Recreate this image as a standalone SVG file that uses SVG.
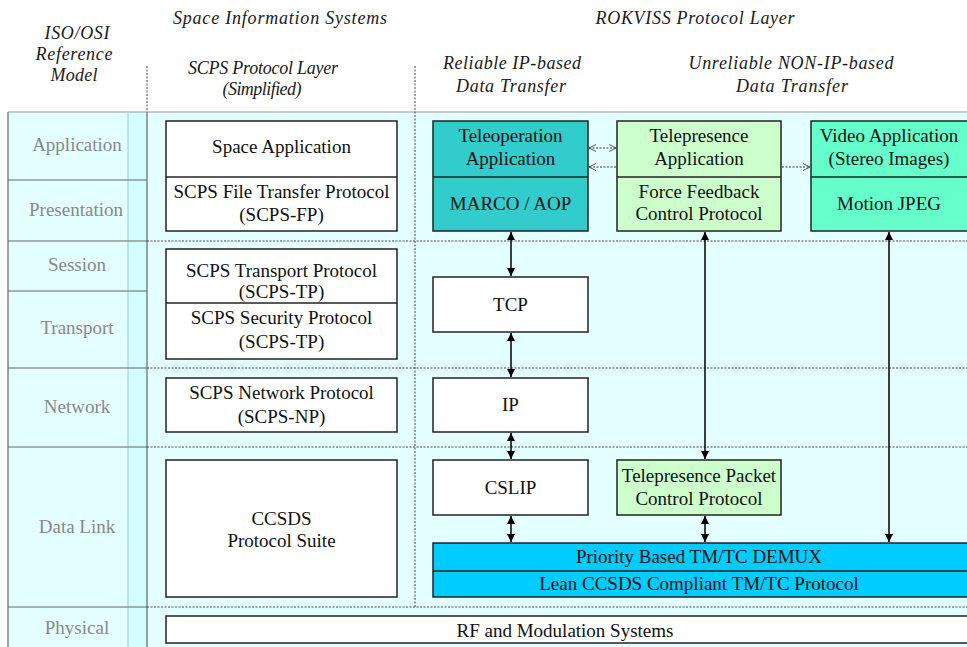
<svg xmlns="http://www.w3.org/2000/svg" width="967" height="647" viewBox="0 0 967 647">
<defs>
<marker id="ah" viewBox="0 0 10 10" refX="10" refY="5" markerWidth="9" markerHeight="8" markerUnits="userSpaceOnUse" orient="auto-start-reverse"><path d="M0,0 L10,5 L0,10 z" fill="#000"/></marker>
<marker id="oh" viewBox="0 0 10 10" refX="10" refY="5" markerWidth="7" markerHeight="9" markerUnits="userSpaceOnUse" orient="auto-start-reverse"><path d="M0,0 L10,5 L0,10" fill="none" stroke="#333" stroke-width="1.2"/></marker>
</defs>
<style>
text{font-family:'Liberation Serif','Times New Roman',serif}
.hdr{font-style:italic;font-size:18px;fill:#1a1a1a;text-anchor:middle}
.lay{font-size:19px;fill:#888;text-anchor:middle}
.bt{font-size:19px;fill:#111;text-anchor:middle}
.box{stroke:#222;stroke-width:1.5}
.dot{stroke:#444;stroke-width:1;stroke-dasharray:2,1.5;fill:none}
.tl{stroke:#666;stroke-width:1.2}
.arr{stroke:#000;stroke-width:1.5;fill:none;marker-start:url(#ah);marker-end:url(#ah)}
.darr{stroke:#333;stroke-width:1.2;stroke-dasharray:2,1.5;fill:none}
</style>
<rect width="967" height="647" fill="#fff"/>
<g id="background">
<rect x="8" y="112" width="959" height="535" fill="#e4ffff"/>
<rect x="128" y="112" width="19" height="535" fill="#d4fdfd"/>
<line x1="8" y1="112" x2="967" y2="112" stroke="#999" stroke-width="1.2"/>
<line x1="8" y1="112" x2="8" y2="647" class="tl"/>
<line x1="128" y1="112" x2="128" y2="647" stroke="#9cc" stroke-width="1"/>
<line x1="147" y1="112" x2="147" y2="647" class="tl"/>
<line x1="8" y1="180" x2="147" y2="180" class="tl"/>
<line x1="8" y1="241" x2="147" y2="241" class="tl"/>
<line x1="8" y1="291" x2="147" y2="291" class="tl"/>
<line x1="8" y1="368" x2="147" y2="368" class="tl"/>
<line x1="8" y1="447" x2="147" y2="447" class="tl"/>
<line x1="8" y1="607" x2="147" y2="607" class="tl"/>
<line x1="147" y1="66" x2="147" y2="112" class="dot"/>
<line x1="415" y1="66" x2="415" y2="607" class="dot"/>
<line x1="147" y1="241" x2="967" y2="241" class="dot"/>
<line x1="147" y1="368" x2="967" y2="368" class="dot"/>
<line x1="147" y1="447" x2="967" y2="447" class="dot"/>
<line x1="147" y1="607" x2="967" y2="607" class="dot"/>
</g>
<g id="headers">
<text class="hdr" x="77" y="39" textLength="65">ISO/OSI</text>
<text class="hdr" x="74" y="60" textLength="77">Reference</text>
<text class="hdr" x="74" y="81" textLength="47">Model</text>
<text class="hdr" x="280" y="24" textLength="214">Space Information Systems</text>
<text class="hdr" x="263" y="74" textLength="150">SCPS Protocol Layer</text>
<text class="hdr" x="262" y="95" textLength="79">(Simplified)</text>
<text class="hdr" x="695" y="24" textLength="199">ROKVISS Protocol Layer</text>
<text class="hdr" x="512" y="69" textLength="138">Reliable IP-based</text>
<text class="hdr" x="511" y="92" textLength="110">Data Transfer</text>
<text class="hdr" x="791" y="69" textLength="205">Unreliable NON-IP-based</text>
<text class="hdr" x="792" y="92" textLength="112">Data Transfer</text>
</g>
<g id="layers">
<text class="lay" x="77" y="151">Application</text>
<text class="lay" x="76" y="216">Presentation</text>
<text class="lay" x="77" y="271">Session</text>
<text class="lay" x="77" y="334">Transport</text>
<text class="lay" x="77" y="413">Network</text>
<text class="lay" x="77" y="533">Data Link</text>
<text class="lay" x="77" y="634">Physical</text>
</g>
<g id="scps-app">
<rect class="box" x="166" y="121" width="231" height="110" fill="#fff"/>
<line class="box" x1="166" y1="177" x2="397" y2="177"/>
<text class="bt" x="281.5" y="153">Space Application</text>
<text class="bt" x="281.5" y="198">SCPS File Transfer Protocol</text>
<text class="bt" x="281.5" y="221">(SCPS-FP)</text>
</g>
<g id="scps-tp">
<rect class="box" x="166" y="249" width="231" height="110" fill="#fff"/>
<line class="box" x1="166" y1="303" x2="397" y2="303"/>
<text class="bt" x="281.5" y="277">SCPS Transport Protocol</text>
<text class="bt" x="281.5" y="298">(SCPS-TP)</text>
<text class="bt" x="281.5" y="324">SCPS Security Protocol</text>
<text class="bt" x="281.5" y="348">(SCPS-TP)</text>
</g>
<g id="scps-np">
<rect class="box" x="166" y="378" width="231" height="54" fill="#fff"/>
<text class="bt" x="281.5" y="399">SCPS Network Protocol</text>
<text class="bt" x="281.5" y="423">(SCPS-NP)</text>
</g>
<g id="ccsds">
<rect class="box" x="166" y="460" width="231" height="137" fill="#fff"/>
<text class="bt" x="281.5" y="525">CCSDS</text>
<text class="bt" x="281.5" y="547">Protocol Suite</text>
</g>
<g id="rf">
<rect class="box" x="166" y="616" width="810" height="27" fill="#fff"/>
<text class="bt" x="565" y="637">RF and Modulation Systems</text>
</g>
<g id="teleop">
<rect class="box" x="433" y="121" width="155" height="110" fill="#33cccc"/>
<line class="box" x1="433" y1="177" x2="588" y2="177"/>
<text class="bt" x="510.5" y="142">Teleoperation</text>
<text class="bt" x="510.5" y="165">Application</text>
<text class="bt" x="510.5" y="210">MARCO / AOP</text>
</g>
<g id="telepresence">
<rect class="box" x="617" y="121" width="164" height="110" fill="#ccffcc"/>
<line class="box" x1="617" y1="177" x2="781" y2="177"/>
<text class="bt" x="699" y="142">Telepresence</text>
<text class="bt" x="699" y="165">Application</text>
<text class="bt" x="699" y="198">Force Feedback</text>
<text class="bt" x="699" y="220">Control Protocol</text>
</g>
<g id="video">
<rect class="box" x="811" y="121" width="165" height="110" fill="#66ffcc"/>
<line class="box" x1="811" y1="177" x2="976" y2="177"/>
<text class="bt" x="889" y="142">Video Application</text>
<text class="bt" x="889" y="165">(Stereo Images)</text>
<text class="bt" x="889" y="210">Motion JPEG</text>
</g>
<g id="tcp">
<rect class="box" x="433" y="277" width="155" height="55" fill="#fff"/>
<text class="bt" x="510.5" y="311">TCP</text>
</g>
<g id="ip">
<rect class="box" x="433" y="378" width="155" height="54" fill="#fff"/>
<text class="bt" x="510.5" y="411">IP</text>
</g>
<g id="cslip">
<rect class="box" x="433" y="460" width="155" height="55" fill="#fff"/>
<text class="bt" x="510.5" y="494">CSLIP</text>
</g>
<g id="tpcp">
<rect class="box" x="617" y="460" width="164" height="55" fill="#ccffcc"/>
<text class="bt" x="699" y="482">Telepresence Packet</text>
<text class="bt" x="699" y="505">Control Protocol</text>
</g>
<g id="demux">
<rect class="box" x="433" y="543" width="543" height="54" fill="#00ccff"/>
<line class="box" x1="433" y1="571" x2="976" y2="571"/>
<text class="bt" x="699" y="563">Priority Based TM/TC DEMUX</text>
<text class="bt" x="699" y="590">Lean CCSDS Compliant TM/TC Protocol</text>
</g>
<g id="connectors">
<line class="arr" x1="511" y1="232" x2="511" y2="276"/>
<line class="arr" x1="511" y1="333" x2="511" y2="377"/>
<line class="arr" x1="511" y1="433" x2="511" y2="459"/>
<line class="arr" x1="511" y1="516" x2="511" y2="542"/>
<line class="arr" x1="705" y1="232" x2="705" y2="459"/>
<line class="arr" x1="705" y1="516" x2="705" y2="542"/>
<line class="arr" x1="889" y1="232" x2="889" y2="542"/>
<line class="darr" x1="589" y1="148" x2="616" y2="148" marker-start="url(#oh)" marker-end="url(#oh)"/>
<line class="darr" x1="616" y1="167" x2="589" y2="167" marker-end="url(#oh)"/>
<line class="darr" x1="782" y1="167" x2="810" y2="167" marker-end="url(#oh)"/>
</g>
</svg>
